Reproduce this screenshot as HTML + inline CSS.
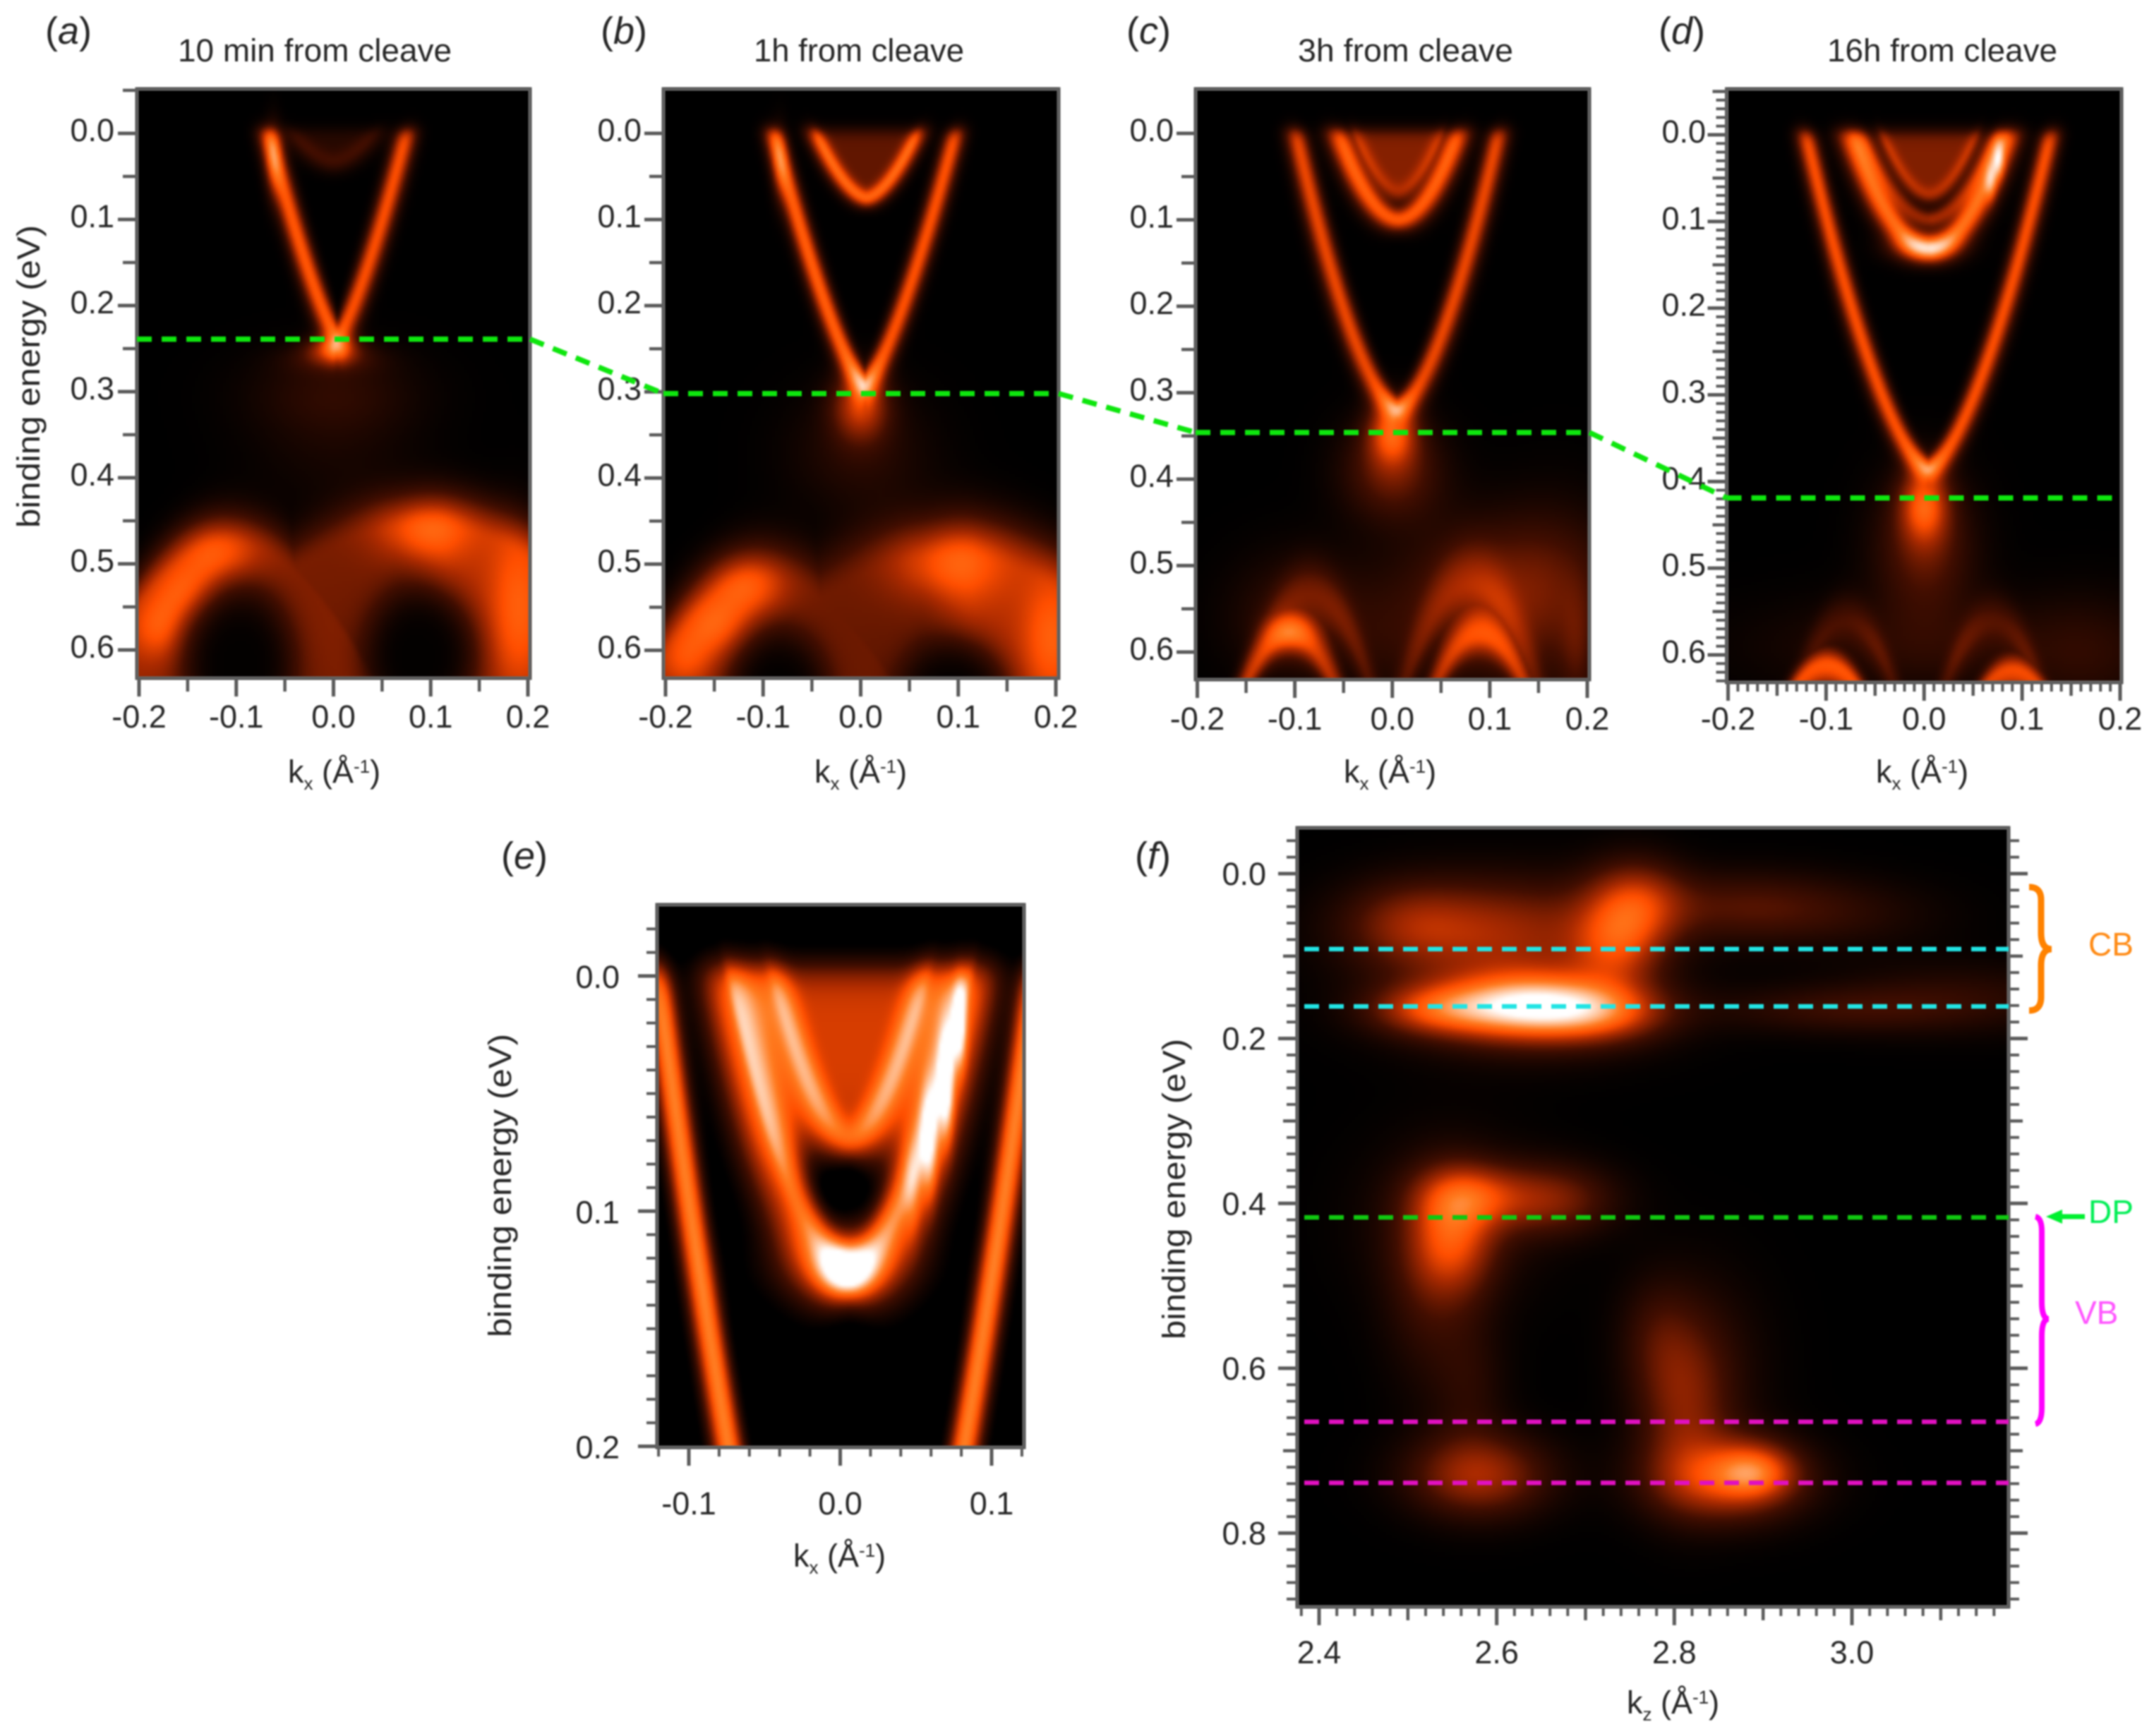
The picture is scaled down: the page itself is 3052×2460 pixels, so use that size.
<!DOCTYPE html>
<html lang="en">
<head>
<meta charset="utf-8">
<title>ARPES band maps versus time from cleave</title>
<style>
html,body{margin:0;padding:0;background:#fff;}
#stage{position:relative;width:3052px;height:2460px;overflow:hidden;background:#fff;}
canvas{position:absolute;display:block;filter:blur(1.5px);}
#overlay{position:absolute;left:0;top:0;filter:blur(1.1px);}
text{font-family:"Liberation Sans",Arial,sans-serif;fill:#262626;font-size:45px;}
</style>
</head>
<body>
<div id="stage">
<canvas id="map-a"></canvas>
<canvas id="map-b"></canvas>
<canvas id="map-c"></canvas>
<canvas id="map-d"></canvas>
<canvas id="map-e"></canvas>
<canvas id="map-f"></canvas>
<svg id="overlay" width="3052" height="2460" viewBox="0 0 3052 2460" xmlns="http://www.w3.org/2000/svg">
  <g id="axes"></g>
  <g id="guides"></g>

  <g>
    <text x="64" y="62" style="font-size:54px">(<tspan font-style="italic">a</tspan>)</text>
    <text x="851" y="62" style="font-size:54px">(<tspan font-style="italic">b</tspan>)</text>
    <text x="1596" y="62" style="font-size:54px">(<tspan font-style="italic">c</tspan>)</text>
    <text x="2350" y="62" style="font-size:54px">(<tspan font-style="italic">d</tspan>)</text>
    <text x="710" y="1231" style="font-size:54px">(<tspan font-style="italic">e</tspan>)</text>
    <text x="1608" y="1231" style="font-size:54px">(<tspan font-style="italic">f</tspan>)</text>
  </g>

  <text x="252" y="87" textLength="388" lengthAdjust="spacingAndGlyphs">10 min from cleave</text>
  <text x="1068" y="87" textLength="298" lengthAdjust="spacingAndGlyphs">1h from cleave</text>
  <text x="1839" y="87" textLength="305" lengthAdjust="spacingAndGlyphs">3h from cleave</text>
  <text x="2589" y="87" textLength="326" lengthAdjust="spacingAndGlyphs">16h from cleave</text>

  <text transform="translate(56,748) rotate(-90)" textLength="429" lengthAdjust="spacingAndGlyphs">binding energy (eV)</text>
  <text transform="translate(724,1895) rotate(-90)" textLength="430" lengthAdjust="spacingAndGlyphs">binding energy (eV)</text>
  <text transform="translate(1679,1898) rotate(-90)" textLength="426" lengthAdjust="spacingAndGlyphs">binding energy (eV)</text>

  <text x="408" y="1109">k<tspan dy="10" font-size="26">x</tspan><tspan dy="-10"> (Å</tspan><tspan dy="-14" font-size="26">-1</tspan><tspan dy="14">)</tspan></text>
  <text x="1154" y="1109">k<tspan dy="10" font-size="26">x</tspan><tspan dy="-10"> (Å</tspan><tspan dy="-14" font-size="26">-1</tspan><tspan dy="14">)</tspan></text>
  <text x="1904" y="1109">k<tspan dy="10" font-size="26">x</tspan><tspan dy="-10"> (Å</tspan><tspan dy="-14" font-size="26">-1</tspan><tspan dy="14">)</tspan></text>
  <text x="2658" y="1109">k<tspan dy="10" font-size="26">x</tspan><tspan dy="-10"> (Å</tspan><tspan dy="-14" font-size="26">-1</tspan><tspan dy="14">)</tspan></text>
  <text x="1124" y="2220">k<tspan dy="10" font-size="26">x</tspan><tspan dy="-10"> (Å</tspan><tspan dy="-14" font-size="26">-1</tspan><tspan dy="14">)</tspan></text>
  <text x="2305" y="2428">k<tspan dy="10" font-size="26">z</tspan><tspan dy="-10"> (Å</tspan><tspan dy="-14" font-size="26">-1</tspan><tspan dy="14">)</tspan></text>

  <path d="M2875 1257 Q2892 1257 2892 1275 L2892 1322 Q2892 1345 2907 1345 Q2892 1345 2892 1368 L2892 1413 Q2892 1432 2875 1432" fill="none" stroke="#ff8200" stroke-width="9"/>
  <path d="M2884 1724 Q2893 1726 2893 1745 L2893 1845 Q2893 1869 2903 1869 Q2893 1869 2893 1893 L2893 1995 Q2893 2016 2884 2018" fill="none" stroke="#ff00ff" stroke-width="8"/>
  <path d="M2954 1724 L2916 1724" stroke="#00f030" stroke-width="7" fill="none"/>
  <polygon points="2899,1724 2922,1714 2922,1734" fill="#00f030"/>
  <text x="2959" y="1354" style="fill:#ff8a14;font-size:46px">CB</text>
  <text x="2959" y="1733" style="fill:#00ee55;font-size:46px">DP</text>
  <text x="2940" y="1876" style="fill:#ff55ff;font-size:46px">VB</text>
</svg>
</div>
<script>
/* ---------- tick labels ---------- */
const yLabelsTop = ['0.0','0.1','0.2','0.3','0.4','0.5','0.6'];
const xLabelsTop = ['-0.2','-0.1','0.0','0.1','0.2'];
const yLabelsE = ['0.0','0.1','0.2'];
const xLabelsE = ['-0.1','0.0','0.1'];
const yLabelsF = ['0.0','0.2','0.4','0.6','0.8'];
const xLabelsF = ['2.4','2.6','2.8','3.0'];

/* ---------- spectral features, in k (1/A) and binding energy (eV) ---------- */
/* bands: centre k, bottom energy, k at E=0, shape exponent, width, left amp, right amp, interior fill */
const bandsA = [[0.004,0.235,0.071,1.3,0.009,0.58,0.55,0],[0.0,0.035,0.045,1.8,0.009,0.12,0.12,0.12]];
const bandsB = [[0.004,0.292,0.093,1.35,0.0085,0.6,0.56,0],[0.006,0.076,0.054,1.7,0.0075,0.48,0.48,0.26]];
const bandsC = [[0.005,0.318,0.104,1.6,0.009,0.52,0.52,0],[0.006,0.1,0.063,1.9,0.0095,0.56,0.56,0.05],[0.006,0.07,0.046,1.9,0.008,0.18,0.18,0.28]];
const bandsD = [[0.004,0.385,0.125,1.55,0.0085,0.55,0.55,0],[0.005,0.132,0.081,1.9,0.0105,0.6,0.62,0.08],[0.005,0.097,0.068,1.9,0.0065,0.28,0.3,0],[0.005,0.07,0.05,1.9,0.0065,0.2,0.2,0.24]];
const bandsE = [[0.004,0.385,0.125,1.55,0.0048,0.64,0.64,0],[0.006,0.127,0.081,1.9,0.0085,0.55,0.55,0.26],[0.006,0.07,0.053,1.9,0.0065,0.36,0.36,0.19]];

/* arches: centre k, top energy, curvature, width above, width below, left amp, right amp */
const archesA = [[-0.105,0.48,8,0.03,0.25,0.38,0.32],[0.09,0.46,3,0.032,0.25,0.3,0.42]];
const archesB = [[-0.095,0.52,8,0.035,0.25,0.34,0.28],[0.088,0.495,3,0.04,0.25,0.28,0.42]];
const archesC = [[-0.105,0.58,28,0.022,0.016,0.42,0.35],[-0.085,0.53,28,0.025,0.02,0.15,0.15],[0.09,0.58,28,0.02,0.016,0.34,0.34],[0.08,0.52,26,0.03,0.02,0.15,0.15]];
const archesD = [[-0.1,0.612,25,0.013,0.02,0.5,0.5],[0.09,0.618,25,0.012,0.02,0.44,0.44],[-0.08,0.56,32,0.02,0.018,0.14,0.14],[0.07,0.56,32,0.02,0.018,0.14,0.14]];
const archesE = [];

/* blobs: k, energy, k spread, energy spread, amp */
const blobsA = [[0,0.25,0.018,0.011,0.38],[0,0.262,0.034,0.012,0.14],[0,0.3,0.06,0.035,0.12],[0,0.37,0.06,0.05,0.06],[-0.18,0.575,0.02,0.025,0.2],[-0.15,0.535,0.025,0.025,0.22],[-0.115,0.49,0.03,0.025,0.22],[0.09,0.46,0.035,0.025,0.25],[0.19,0.56,0.02,0.07,0.2],[-0.062,0.03,0.006,0.03,0.22]];
const blobsB = [[0,0.315,0.02,0.028,0.42],[0,0.37,0.05,0.05,0.12],[-0.18,0.61,0.02,0.025,0.2],[-0.15,0.57,0.025,0.025,0.25],[-0.115,0.525,0.03,0.025,0.25],[0.085,0.5,0.04,0.03,0.25],[0.195,0.59,0.02,0.05,0.2],[-0.083,0.035,0.006,0.03,0.18]];
const blobsC = [[0,0.345,0.017,0.025,0.48],[0,0.39,0.035,0.04,0.28],[-0.09,0.56,0.05,0.05,0.18],[0.09,0.55,0.06,0.06,0.22],[0.13,0.5,0.07,0.05,0.1],[0.17,0.55,0.04,0.08,0.12],[0,0.6,0.03,0.05,0.06],[-0.105,0.575,0.018,0.014,0.18],[0.19,0.6,0.012,0.05,0.12]];
const blobsD = [[0,0.425,0.017,0.03,0.46],[0,0.475,0.035,0.055,0.26],[0,0.59,0.12,0.04,0.12],[0.076,0.03,0.004,0.015,0.3],[0.068,0.055,0.004,0.015,0.25],[0,0.13,0.025,0.012,0.3],[0.17,0.6,0.05,0.05,0.1]];
const blobsE = [[0.079,0.022,0.003,0.012,0.4],[0.07,0.048,0.0035,0.016,0.45],[0.059,0.072,0.004,0.016,0.35],[0.048,0.092,0.004,0.014,0.15],[0.004,0.124,0.012,0.008,0.4],[0,0.125,0.04,0.012,0.12],[0,0.088,0.025,0.015,-0.3]];
const blobsF = [[2.637,0.161,0.062,0.026,0.72],[2.63,0.165,0.1,0.04,0.22],[2.53,0.165,0.05,0.021,0.36],[2.72,0.168,0.05,0.024,0.36],[2.98,0.165,0.1,0.02,0.14],[3.12,0.15,0.1,0.03,0.12],[2.755,0.035,0.038,0.036,0.38],[2.735,0.09,0.035,0.035,0.32],[2.6,0.07,0.1,0.045,0.36],[2.5,0.06,0.05,0.035,0.18],[2.88,0.04,0.08,0.03,0.2],[3.0,0.05,0.08,0.03,0.08],[2.55,0.44,0.033,0.05,0.42],[2.57,0.39,0.04,0.025,0.3],[2.66,0.395,0.05,0.03,0.3],[2.55,0.42,0.07,0.07,0.12],[2.52,0.52,0.035,0.08,0.12],[2.58,0.73,0.055,0.035,0.38],[2.86,0.735,0.06,0.035,0.45],[2.89,0.725,0.03,0.022,0.36],[2.81,0.65,0.035,0.07,0.22],[2.83,0.6,0.05,0.08,0.12],[2.78,0.56,0.03,0.05,0.12],[2.57,0.62,0.03,0.06,0.11]];

/* dark pockets under the valence arches: k, energy, k spread, energy spread */
const pocketsA = [[-0.098,0.615,0.05,0.08],[0.09,0.605,0.05,0.07]];
const pocketsB = [[-0.085,0.655,0.045,0.07],[0.095,0.66,0.05,0.065]];

/* ---------- guide line energies ---------- */
const diracEnergyA = 0.239;
const diracEnergyB = 0.302;
const diracEnergyC = 0.346;
const diracEnergyD = 0.419;
const cbLinesF = [0.0915,0.161];
const dpLinesF = [0.417];
const vbLinesF = [0.665,0.739];

/* ---------- panel layout ---------- */
const panels = {
  a:{frame:[194,126,751,961],xCal:[-0.2,197,0.2,748],yCal:[0,189,0.6,921],bands:bandsA,arches:archesA,blobs:blobsA,pockets:pocketsA,xLab:xLabelsTop,yLab:yLabelsTop,labRight:162,labOff:11,xBase:1031,mid:0.05,minor:0,gain:1,floor:0},
  b:{frame:[940,126,1500,961],xCal:[-0.2,943,0.2,1496],yCal:[0,189,0.6,921.5],bands:bandsB,arches:archesB,blobs:blobsB,pockets:pocketsB,xLab:xLabelsTop,yLab:yLabelsTop,labRight:909,labOff:11,xBase:1031,mid:0.05,minor:0,gain:1,floor:0},
  c:{frame:[1694,126,2252,963],xCal:[-0.2,1696.5,0.2,2249],yCal:[0,189,0.6,924],bands:bandsC,arches:archesC,blobs:blobsC,pockets:[],xLab:xLabelsTop,yLab:yLabelsTop,labRight:1663,labOff:11,xBase:1034,mid:0.05,minor:0,gain:1,floor:0},
  d:{frame:[2446.5,126,3006,967],xCal:[-0.2,2448.5,0.2,3004],yCal:[0,191,0.6,928],bands:bandsD,arches:archesD,blobs:blobsD,pockets:[],xLab:xLabelsTop,yLab:yLabelsTop,labRight:2417,labOff:11,xBase:1034,mid:0.05,minor:0.01,gain:1,floor:0},
  e:{frame:[931,1282,1451,2051],xCal:[-0.1,976,0.1,1405],yCal:[0,1383,0.2,2049.5],bands:bandsE,arches:archesE,blobs:blobsE,pockets:[],xLab:xLabelsE,yLab:yLabelsE,labRight:878,labOff:17,xBase:2146,mid:0,minor:0.02,yMinor:0.01,gain:1.2,floor:0.05},
  f:{frame:[1838,1173,2846,2277],xCal:[2.4,1869,3.0,2624],yCal:[0,1238,0.8,2172.5],bands:[],arches:[],blobs:blobsF,pockets:[],xLab:xLabelsF,yLab:yLabelsF,labRight:1794,labOff:16,xBase:2357,mid:0.1,minor:0.02,yMid:0.1,yMinor:0.02,gain:1,floor:0,mirror:true}
};

/* ---------- axis functions ---------- */
function xScale(p,k){const c=p.xCal;return c[1]+(k-c[0])*(c[3]-c[1])/(c[2]-c[0]);}
function yScale(p,E){const c=p.yCal;return c[1]+(E-c[0])*(c[3]-c[1])/(c[2]-c[0]);}
function kAt(p,x){const c=p.xCal;return c[0]+(x-c[1])*(c[2]-c[0])/(c[3]-c[1]);}
function eAt(p,y){const c=p.yCal;return c[0]+(y-c[1])*(c[2]-c[0])/(c[3]-c[1]);}

/* ---------- colour map: black, dark red, orange, white ---------- */
const cmapStops = [[0,0,0,0],[0.2,66,14,0],[0.4,170,42,0],[0.55,255,78,0],[0.7,255,122,30],[0.85,255,190,145],[1,255,255,255]];
function colour(v){
  if(v<=0)return [0,0,0];
  if(v>=1)return [255,255,255];
  for(let i=1;i<cmapStops.length;i++){
    if(v<=cmapStops[i][0]){
      const a=cmapStops[i-1],b=cmapStops[i],t=(v-a[0])/(b[0]-a[0]);
      return [a[1]+(b[1]-a[1])*t,a[2]+(b[2]-a[2])*t,a[3]+(b[3]-a[3])*t];
    }
  }
  return [255,255,255];
}

function intensity(p,k,E,ratio){
  let sum=0;
  const fermi=1/(1+Math.exp(-(E+0.004)/0.0045));
  for(const b of p.bands){
    const u=Math.abs(k-b[0])/b[2];
    const Eb=b[1]*(1-Math.pow(u,b[3]));
    const s=b[1]*b[3]*Math.pow(u,b[3]-1)/b[2];
    const d=(E-Eb)/Math.sqrt(1+s*s*ratio*ratio);
    const amp=k<b[0]?b[5]:b[6];
    let v=amp*Math.exp(-d*d/(2*b[4]*b[4]));
    v+=b[7]/(1+Math.exp((E-Eb)/0.004));
    sum+=v*fermi;
  }
  let arch=0;
  for(const a of p.arches){
    const dk=k-a[0];
    const d=E-(a[1]+a[2]*dk*dk);
    const w=d<0?a[3]:a[4];
    const t=Math.min(1,Math.max(0,(dk+0.03)/0.06));
    const amp=a[5]+(a[6]-a[5])*t*t*(3-2*t);
    arch=Math.max(arch,amp*Math.exp(-d*d/(2*w*w)));
  }
  sum+=arch;
  for(const g of p.blobs){
    const dk=(k-g[0])/g[2],dE=(E-g[1])/g[3];
    sum+=g[4]*Math.exp(-0.5*(dk*dk+dE*dE));
  }
  for(const q of p.pockets){
    const dk=(k-q[0])/q[2],dE=(E-q[1])/q[3];
    const r=(dk*dk+dE*dE)/1.44;
    sum*=1-0.97*Math.exp(-r*r);
  }
  return sum;
}

const CELL=4;
function paintMap(id,p){
  const cv=document.getElementById('map-'+id);
  const f=p.frame,W=f[2]-f[0],H=f[3]-f[1];
  cv.style.left=f[0]+'px';
  cv.style.top=f[1]+'px';
  cv.style.width=W+'px';
  cv.style.height=H+'px';
  const w=Math.round(W/CELL),h=Math.round(H/CELL);
  cv.width=w;
  cv.height=h;
  const ctx=cv.getContext('2d');
  const img=ctx.createImageData(w,h);
  const ratio=Math.abs((p.yCal[3]-p.yCal[1])/(p.yCal[2]-p.yCal[0]))/Math.abs((p.xCal[3]-p.xCal[1])/(p.xCal[2]-p.xCal[0]));
  for(let j=0;j<h;j++){
    const E=eAt(p,f[1]+(j+0.5)*H/h);
    for(let i=0;i<w;i++){
      const k=kAt(p,f[0]+(i+0.5)*W/w);
      const v=Math.max(0,intensity(p,k,E,ratio)-p.floor)*p.gain;
      const c=colour(v),o=4*(j*w+i);
      img.data[o]=c[0];
      img.data[o+1]=c[1];
      img.data[o+2]=c[2];
      img.data[o+3]=255;
    }
  }
  ctx.putImageData(img,0,0);
}

/* ---------- SVG helpers ---------- */
const NS='http://www.w3.org/2000/svg';
const axesRoot=document.getElementById('axes');
const guidesRoot=document.getElementById('guides');

function drawLine(parent,x1,y1,x2,y2,stroke,width,dash,name){
  const el=document.createElementNS(NS,'line');
  el.setAttribute('x1',x1);
  el.setAttribute('y1',y1);
  el.setAttribute('x2',x2);
  el.setAttribute('y2',y2);
  el.setAttribute('stroke',stroke);
  el.setAttribute('stroke-width',width);
  if(dash)el.setAttribute('stroke-dasharray',dash);
  
  
  parent.appendChild(el);
  return el;
}
function drawLabel(parent,x,y,str,anchor,name){
  const el=document.createElementNS(NS,'text');
  el.setAttribute('x',x);
  el.setAttribute('y',y);
  el.setAttribute('text-anchor',anchor);
  el.textContent=str;
  
  
  parent.appendChild(el);
  return el;
}
function multiples(lo,hi,step){
  const out=[];
  for(let i=Math.ceil(lo/step-1e-6);i<=hi/step+1e-6;i++)out.push(i*step);
  return out;
}

const TICK='#5a5a5a';
function drawAxes(id,p){
  const g=document.createElementNS(NS,'g');
  
  
  axesRoot.appendChild(g);
  const f=p.frame;
  const kLo=Math.min(kAt(p,f[0]),kAt(p,f[2])),kHi=Math.max(kAt(p,f[0]),kAt(p,f[2]));
  const eLo=eAt(p,f[1]+2),eHi=eAt(p,f[3]);
  const xMid=p.mid||0,xMinor=p.minor||0;
  const yMid=p.yMid!==undefined?p.yMid:p.mid;
  const yMinor=p.yMinor!==undefined?p.yMinor:p.minor;

  if(xMinor)for(const k of multiples(kLo,kHi,xMinor))drawLine(g,xScale(p,k),f[3],xScale(p,k),f[3]+13,TICK,4,null,'x-minor-tick-'+id);
  if(xMid)for(const k of multiples(kLo,kHi,xMid))drawLine(g,xScale(p,k),f[3],xScale(p,k),f[3]+19,TICK,4.5,null,'x-mid-tick-'+id);
  for(const s of p.xLab){
    const k=parseFloat(s),x=xScale(p,k);
    drawLine(g,x,f[3],x,f[3]+26,TICK,5,null,'x-major-tick-'+id);
    drawLabel(g,x,p.xBase,s,'middle','x-tick-label-'+id);
  }
  const sides=p.mirror?[-1,1]:[-1];
  for(const side of sides){
    const x0=side<0?f[0]:f[2];
    if(yMinor)for(const E of multiples(eLo,eHi,yMinor))drawLine(g,x0,yScale(p,E),x0+side*15,yScale(p,E),TICK,4,null,'y-minor-tick-'+id);
    if(yMid)for(const E of multiples(eLo,eHi,yMid))drawLine(g,x0,yScale(p,E),x0+side*20,yScale(p,E),TICK,4.5,null,'y-mid-tick-'+id);
    for(const s of p.yLab){
      const y=yScale(p,parseFloat(s));
      drawLine(g,x0,y,x0+side*27,y,TICK,5,null,'y-major-tick-'+id);
    }
  }
  for(const s of p.yLab){
    drawLabel(g,p.labRight,yScale(p,parseFloat(s))+p.labOff,s,'end','y-tick-label-'+id);
  }
  const fr=document.createElementNS(NS,'rect');
  fr.setAttribute('x',f[0]);
  fr.setAttribute('y',f[1]);
  fr.setAttribute('width',f[2]-f[0]);
  fr.setAttribute('height',f[3]-f[1]);
  fr.setAttribute('fill','none');
  fr.setAttribute('stroke','#5f5f5f');
  fr.setAttribute('stroke-width','5');
  
  
  g.appendChild(fr);
}

for(const id of Object.keys(panels)){
  paintMap(id,panels[id]);
  drawAxes(id,panels[id]);
}

/* ---------- Dirac point guides and connectors ---------- */
const GREEN='#0ee60e';
const DASH='21 14';
const pa=panels.a,pb=panels.b,pc=panels.c,pd=panels.d,pf=panels.f;
const ya=yScale(pa,diracEnergyA),yb=yScale(pb,diracEnergyB),yc=yScale(pc,diracEnergyC),yd=yScale(pd,diracEnergyD);
drawLine(guidesRoot,pa.frame[0],ya,pa.frame[2],ya,GREEN,7.5,DASH,'dirac-line-a');
drawLine(guidesRoot,pb.frame[0],yb,pb.frame[2],yb,GREEN,7.5,DASH,'dirac-line-b');
drawLine(guidesRoot,pc.frame[0],yc,pc.frame[2],yc,GREEN,7.5,DASH,'dirac-line-c');
drawLine(guidesRoot,pd.frame[0],yd,pd.frame[2]-10,yd,GREEN,7.5,DASH,'dirac-line-d');
drawLine(guidesRoot,pa.frame[2],ya,pb.frame[0],yb,GREEN,7.5,DASH,'dirac-connector-a-b');
drawLine(guidesRoot,pb.frame[2],yb,pc.frame[0],yc,GREEN,7.5,DASH,'dirac-connector-b-c');
drawLine(guidesRoot,pc.frame[2],yc,pd.frame[0],yd,GREEN,7.5,DASH,'dirac-connector-c-d');

for(const E of cbLinesF)drawLine(guidesRoot,1848,yScale(pf,E),pf.frame[2],yScale(pf,E),'#22e4e4',6.5,DASH,'cb-level-line');
for(const E of dpLinesF)drawLine(guidesRoot,1848,yScale(pf,E),pf.frame[2],yScale(pf,E),'#10c810',6.5,DASH,'dp-level-line');
for(const E of vbLinesF)drawLine(guidesRoot,1848,yScale(pf,E),pf.frame[2],yScale(pf,E),'#e010c0',6.5,DASH,'vb-level-line');
</script>
</body>
</html>
